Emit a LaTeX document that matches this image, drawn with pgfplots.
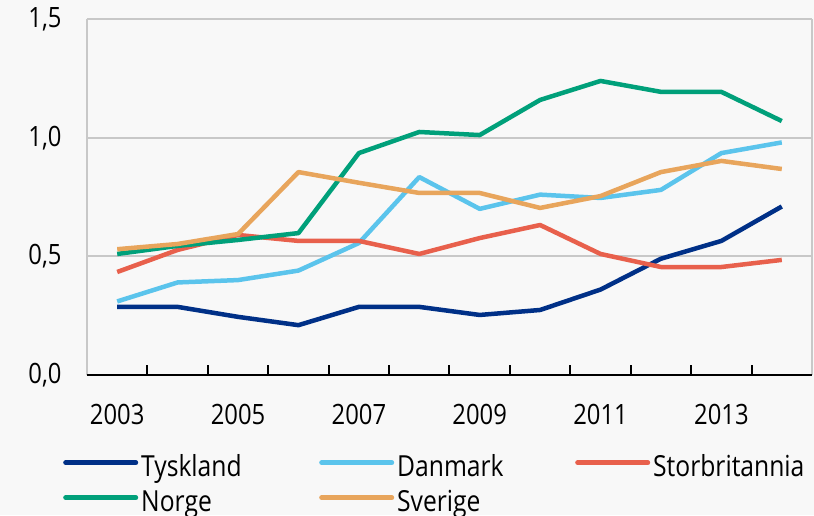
\documentclass[border=0pt]{standalone}
\usepackage{pgfplots}
\pgfplotsset{compat=1.18}
\usepackage{fontspec}
\setmainfont{Open Sans}[FakeStretch=0.85]
\definecolor{bg}{HTML}{F8F8F8}
\definecolor{gridc}{HTML}{C8C8C8}
\definecolor{cTy}{HTML}{003087}
\definecolor{cDk}{HTML}{5BC4EC}
\definecolor{cUk}{HTML}{E8604C}
\definecolor{cNo}{HTML}{00A07A}
\definecolor{cSe}{HTML}{E8A55C}
\pagecolor{bg}
\begin{document}
\begin{tikzpicture}[x=1pt,y=1pt]
\begin{axis}[
  at={(0,0)}, anchor=south west,
  scale only axis, width=725pt, height=356pt,
  xmin=2002.5, xmax=2014.5, ymin=0, ymax=1.5,
  axis line style={draw=none},
  xtick={2003,2005,...,2013},
  xticklabels={2003,2005,2007,2009,2011,2013},
  minor xtick={2002.5,2003.5,...,2014.5},
  major x tick style={draw=none},
  minor x tick style={black, line width=2pt},
  minor tick length=10pt,
  tick align=inside,
  xtick pos=bottom,
  ytick={0,0.5,1,1.5},
  y tick style={draw=none},
  ymajorgrids,
  major grid style={gridc, line width=2pt},
  /pgf/number format/assume math mode=true,
  yticklabel={\pgfmathprintnumber[fixed,fixed zerofill,precision=1,use comma]{\tick}},
  ticklabel style={font=\fontsize{28}{32}\selectfont},
  yticklabel style={anchor=east, xshift=-22pt},
  xticklabel style={anchor=north, yshift=-26pt},
  legend columns=3,
  legend cell align=left,
  legend style={at={(-24/725,-79/356)}, anchor=north west, draw=none, fill=none,
    inner sep=0pt, font=\fontsize{29}{32}\selectfont,
    nodes={inner sep=0pt, text width=178pt, text height=22pt, text depth=13pt},
    /tikz/every odd column/.append style={column sep=3pt}},
  legend image code/.code={\draw[#1, line cap=round, line width=5pt] (0pt,9pt) -- (70pt,9pt);},
  every axis plot/.append style={line width=4.5pt, line join=round},
  clip=false,
]
\draw[gridc, line width=2pt] (rel axis cs:0,0) -- (rel axis cs:0,1);
\draw[gridc, line width=2pt] (rel axis cs:1,0) -- (rel axis cs:1,1);
\draw[black, line width=2.5pt] (rel axis cs:0,0) -- (rel axis cs:1,0);
\addplot[cTy] coordinates {(2003,0.287)(2004,0.287)(2005,0.245)(2006,0.21)(2007,0.287)(2008,0.287)(2009,0.253)(2010,0.274)(2011,0.36)(2012,0.49)(2013,0.565)(2014,0.71)};
\addlegendentry{Tyskland}
\addplot[cDk] coordinates {(2003,0.31)(2004,0.39)(2005,0.40)(2006,0.44)(2007,0.556)(2008,0.834)(2009,0.70)(2010,0.76)(2011,0.746)(2012,0.78)(2013,0.935)(2014,0.98)};
\addlegendentry{Danmark}
\addplot[cUk] coordinates {(2003,0.434)(2004,0.527)(2005,0.59)(2006,0.565)(2007,0.565)(2008,0.51)(2009,0.577)(2010,0.632)(2011,0.51)(2012,0.455)(2013,0.455)(2014,0.485)};
\addlegendentry{Storbritannia}
\addplot[cNo] coordinates {(2003,0.51)(2004,0.544)(2005,0.569)(2006,0.598)(2007,0.935)(2008,1.024)(2009,1.011)(2010,1.159)(2011,1.239)(2012,1.193)(2013,1.193)(2014,1.07)};
\addlegendentry{Norge}
\addplot[cSe] coordinates {(2003,0.53)(2004,0.552)(2005,0.594)(2006,0.855)(2007,0.81)(2008,0.767)(2009,0.767)(2010,0.704)(2011,0.754)(2012,0.855)(2013,0.902)(2014,0.868)};
\addlegendentry{Sverige}
\end{axis}
\pgfresetboundingbox
\path (-87pt,-140pt) rectangle (727pt,375pt);
\end{tikzpicture}
\end{document}
